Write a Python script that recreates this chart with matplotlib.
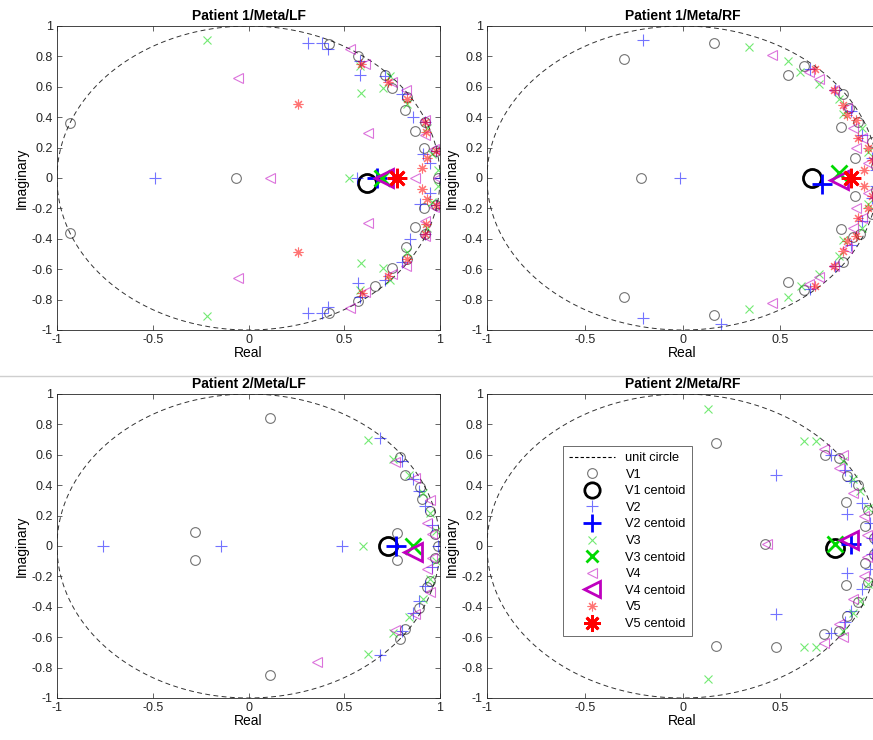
import numpy as np
import matplotlib
matplotlib.use("Agg")
import matplotlib.pyplot as plt
from matplotlib.lines import Line2D

plt.rcParams['font.family'] = ['Liberation Sans', 'DejaVu Sans']

# ---------------------------------------------------------------- data
titles = ["Patient 1/Meta/LF", "Patient 1/Meta/RF",
          "Patient 2/Meta/LF", "Patient 2/Meta/RF"]
series_names = ["V1", "V2", "V3", "V4", "V5"]

xtick_vals = [-1, -0.5, 0, 0.5, 1]
xtick_labels = ["-1", "-0.5", "0", "0.5", "1"]
ytick_vals = [-1, -0.8, -0.6, -0.4, -0.2, 0, 0.2, 0.4, 0.6, 0.8, 1]
ytick_labels = ["-1", "-0.8", "-0.6", "-0.4", "-0.2", "0",
                "0.2", "0.4", "0.6", "0.8", "1"]

# Patient 1 / LF : roots per variable
p1_v1 = [-0.93+0.36j, -0.93-0.36j, -0.065+0j, 0.42+0.88j, 0.42-0.89j,
         0.57+0.80j, 0.57-0.81j, 0.715+0.68j, 0.66-0.71j, 0.75+0.59j,
         0.75-0.59j, 0.83+0.53j, 0.82-0.455j, 0.815+0.45j, 0.83-0.53j,
         0.92+0.37j, 0.92-0.37j, 0.87+0.31j, 0.87-0.32j, 0.915+0.20j,
         0.915-0.20j, 0.98+0.18j, 0.98-0.18j, 0.99+0j]
p1_v2 = [-0.49+0j, 0.565+0j, 0.31+0.89j, 0.31-0.89j, 0.385+0.885j,
         0.385-0.885j, 0.415+0.85j, 0.415-0.85j, 0.58+0.77j, 0.58-0.78j,
         0.58+0.68j, 0.57-0.69j, 0.715+0.67j, 0.715-0.67j, 0.80+0.55j,
         0.80-0.55j, 0.86+0.40j, 0.845-0.40j, 0.92+0.37j, 0.92-0.37j,
         0.91+0.16j, 0.895-0.17j, 0.95+0.10j, 0.95-0.10j, 0.98+0.18j,
         0.98-0.18j, 1.0+0j]
p1_v3 = [-0.215+0.91j, -0.215-0.91j, 0.525+0j, 0.585+0.56j, 0.585-0.56j,
         0.58+0.74j, 0.58-0.74j, 0.70+0.59j, 0.70-0.59j, 0.74+0.67j,
         0.74-0.67j, 0.83+0.49j, 0.83-0.49j, 0.93+0.33j, 0.93-0.33j,
         0.96+0.16j, 0.96-0.16j, 0.99+0.05j, 0.99-0.05j]
p1_v4 = [-0.055+0.66j, -0.055-0.66j, 0.11+0j, 0.625+0.295j, 0.625-0.295j,
         0.87+0j, 0.53+0.85j, 0.53-0.855j, 0.61+0.75j, 0.61-0.75j,
         0.75+0.63j, 0.75-0.63j, 0.82+0.58j, 0.82-0.58j, 0.92+0.38j,
         0.92-0.38j, 0.92+0.28j, 0.92-0.28j, 0.97+0.19j, 0.97-0.19j,
         0.99+0j]
p1_v5 = [0.26+0.485j, 0.26-0.485j, 0.59+0.75j, 0.595-0.755j, 0.73+0.63j,
         0.73-0.645j, 0.83+0.52j, 0.83-0.535j, 0.92+0.37j, 0.92-0.37j,
         0.925+0.30j, 0.925-0.30j, 0.93+0.13j, 0.93-0.136j, 0.905+0.065j,
         0.905-0.07j, 0.98+0.18j, 0.98-0.18j]
p1_centroids = [0.62-0.03j, 0.67+0j, 0.695+0j, 0.71+0j, 0.775+0j]

# Patient 1 / RF
p2_v1 = [-0.30+0.78j, -0.30-0.78j, -0.21+0j, 0.16+0.89j, 0.16-0.90j,
         0.54+0.675j, 0.54-0.686j, 0.62+0.74j, 0.62-0.74j, 0.82+0.55j,
         0.82-0.555j, 0.85+0.46j, 0.87-0.39j, 0.81+0.335j, 0.81-0.335j,
         0.90+0.37j, 0.91-0.37j, 0.88+0.13j, 0.88-0.12j, 0.97+0.24j,
         0.97-0.24j, 0.99+0.08j, 0.99-0.08j]
p2_v2 = [-0.20+0.91j, -0.20-0.92j, -0.015+0j, 0.195-0.958j, 0.65+0.715j,
         0.65-0.73j, 0.78+0.58j, 0.78-0.58j, 0.86+0.44j, 0.86-0.44j,
         0.92+0.28j, 0.92-0.28j, 0.97+0.13j, 0.97-0.13j, 0.99+0.05j,
         0.99-0.05j]
p2_v3 = [0.34+0.86j, 0.34-0.86j, 0.54+0.77j, 0.54-0.78j, 0.60+0.70j,
         0.605-0.71j, 0.70+0.62j, 0.70-0.63j, 0.80+0.52j, 0.80-0.51j,
         0.82+0.42j, 0.82-0.41j, 0.92+0.33j, 0.92-0.33j, 0.95+0.17j,
         0.95-0.17j]
p2_v4 = [0.46+0.81j, 0.46-0.82j, 0.645+0.70j, 0.645-0.70j, 0.70+0.65j,
         0.70-0.65j, 0.775+0.58j, 0.775-0.58j, 0.84+0.46j, 0.84-0.46j,
         0.87+0.33j, 0.87-0.33j, 0.92+0.26j, 0.92-0.26j, 0.89+0.20j,
         0.89-0.20j, 0.95+0.10j, 0.95-0.10j]
p2_v5 = [0.68+0.715j, 0.68-0.71j, 0.775+0.58j, 0.775-0.58j, 0.82+0.48j,
         0.82-0.48j, 0.84+0.415j, 0.84-0.415j, 0.89+0.38j, 0.89-0.38j,
         0.90+0.26j, 0.90-0.26j, 0.95+0.20j, 0.95-0.20j, 0.93+0.05j,
         0.93-0.05j, 0.97+0.12j, 0.97-0.12j]
p2_centroids = [0.66+0j, 0.715-0.04j, 0.80+0.03j, 0.80-0.01j, 0.86+0j]

# Patient 2 / LF (no V5 roots)
p3_v1 = [-0.28+0.09j, -0.28-0.09j, 0.11+0.84j, 0.11-0.85j, 0.79+0.585j,
         0.79-0.61j, 0.817+0.47j, 0.817-0.545j, 0.895+0.39j, 0.89-0.41j,
         0.905+0.31j, 0.93-0.27j, 0.948+0.23j, 0.948-0.23j, 0.974+0.08j,
         0.974-0.08j, 0.775+0.085j, 0.775-0.09j, 0.99+0j]
p3_v2 = [-0.76+0j, -0.145+0j, 0.49+0j, 0.687+0.71j, 0.687-0.72j,
         0.80+0.56j, 0.80-0.56j, 0.86+0.44j, 0.86-0.44j, 0.89+0.36j,
         0.89-0.36j, 0.92+0.26j, 0.92-0.26j, 0.96+0.14j, 0.96-0.14j,
         0.99+0j]
p3_v3 = [0.60+0j, 0.625+0.70j, 0.625-0.71j, 0.755+0.575j, 0.755-0.575j,
         0.84+0.47j, 0.84-0.47j, 0.91+0.35j, 0.91-0.35j, 0.95+0.22j,
         0.95-0.22j, 0.98+0.10j, 0.98-0.10j]
p3_v4 = [0.36-0.765j, 0.765+0.55j, 0.765-0.55j, 0.87+0.45j, 0.87-0.45j,
         0.948+0.30j, 0.948-0.30j, 0.93+0.15j, 0.93-0.15j, 0.96+0.08j,
         0.96-0.08j]
p3_v5 = []
p3_centroids = [0.73+0j, 0.77+0j, 0.86+0j, 0.86-0.04j, None]

# Patient 2 / RF (no V5 roots)
p4_v1 = [0.17+0.68j, 0.17-0.655j, 0.48-0.665j, 0.42+0.015j, 0.73+0.60j,
         0.725-0.58j, 0.80+0.58j, 0.80-0.56j, 0.84+0.46j, 0.84-0.46j,
         0.90+0.40j, 0.90-0.37j, 0.835+0.29j, 0.835-0.255j, 0.95+0.24j,
         0.95-0.24j, 0.935+0.13j, 0.935-0.11j, 0.98+0.05j, 0.98-0.05j]
p4_v2 = [0.48+0.47j, 0.48-0.445j, 0.76+0.60j, 0.76-0.575j, 0.83+0.50j,
         0.83-0.50j, 0.86+0.43j, 0.86-0.43j, 0.92+0.28j, 0.92-0.28j,
         0.84+0.21j, 0.84-0.18j, 0.96+0.15j, 0.96-0.15j, 0.97+0.05j,
         0.97-0.05j]
p4_v3 = [0.13+0.90j, 0.13-0.875j, 0.62+0.69j, 0.62-0.665j, 0.685+0.69j,
         0.685-0.665j, 0.82+0.56j, 0.82-0.56j, 0.87+0.44j, 0.87-0.44j,
         0.91+0.36j, 0.91-0.36j, 0.95+0.25j, 0.95-0.25j]
p4_v4 = [0.43+0.01j, 0.725+0.64j, 0.725-0.64j, 0.80+0.51j, 0.80-0.51j,
         0.87+0.35j, 0.87-0.35j, 0.93+0.20j, 0.93-0.20j, 0.945+0.07j,
         0.945-0.07j, 0.82+0.60j, 0.82-0.60j]
p4_v5 = []
p4_centroids = [0.78-0.015j, 0.86+0.015j, 0.78+0.01j, 0.85+0.04j, None]

panel_roots = [
    [p1_v1, p1_v2, p1_v3, p1_v4, p1_v5],
    [p2_v1, p2_v2, p2_v3, p2_v4, p2_v5],
    [p3_v1, p3_v2, p3_v3, p3_v4, p3_v5],
    [p4_v1, p4_v2, p4_v3, p4_v4, p4_v5],
]
panel_centroids = [p1_centroids, p2_centroids, p3_centroids, p4_centroids]

# ---------------------------------------------------------------- styles
ASTERISK = (8, 2, 0)
colors = ["k", "b", (0.0, 0.85, 0.0), "m", "r"]
markers = ["o", "+", "x", "<", ASTERISK]
pt_size = [7, 8, 6, 7, 7]
ct_size = [13, 15, 11, 13, 14]
pt_alpha = 0.55

W, H = 873, 740
fig = plt.figure(figsize=(W / 100, H / 100), dpi=100)

# axes rectangles in pixels: left, top, right, bottom
rects = [(57, 26, 440, 330), (487, 26, 878, 330),
         (57, 394, 440, 698), (487, 394, 878, 698)]

theta = np.linspace(0, 2 * np.pi, 400)

axes = []
for k, (l, t, r, b) in enumerate(rects):
    ax = fig.add_axes([l / W, 1 - b / H, (r - l) / W, (b - t) / H])
    axes.append(ax)
    ax.plot(np.cos(theta), np.sin(theta), ls=(0, (5, 3.5)), color="#333333",
            lw=0.7)
    for s in range(5):
        z = np.asarray(panel_roots[k][s], dtype=complex)
        if z.size:
            ax.plot(z.real, z.imag, ls="none", marker=markers[s],
                    ms=pt_size[s], mec=colors[s], mfc="none", mew=0.8,
                    alpha=pt_alpha)
        c = panel_centroids[k][s]
        if c is not None:
            ax.plot([c.real], [c.imag], ls="none", marker=markers[s],
                    ms=ct_size[s], mec=colors[s], mfc="none", mew=2.0)
    ax.set_xlim(-1, 1)
    ax.set_ylim(-1, 1)
    ax.set_xticks(xtick_vals)
    # the right-hand panels run past the figure edge, so their last
    # x label would be clipped
    if k % 2 == 1:
        ax.set_xticklabels(xtick_labels[:-1] + [""])
    else:
        ax.set_xticklabels(xtick_labels)
    ax.set_yticks(ytick_vals)
    ax.set_yticklabels(ytick_labels)
    ax.tick_params(direction="in", top=True, right=True, length=3.5,
                   width=0.5, labelsize=9, colors="#262626", pad=3)
    for sp in ax.spines.values():
        sp.set_linewidth(0.6)
        sp.set_color("#262626")
    ax.set_title(titles[k], fontsize=10, fontweight="bold", pad=4)
    ax.set_xlabel("Real", fontsize=10, labelpad=0)
    ax.set_ylabel("Imaginary", fontsize=10, labelpad=2)

# legend on the last panel
handles = [Line2D([], [], ls=(0, (3, 2)), color="k", lw=0.8)]
labels = ["unit circle"]
for s in range(5):
    handles.append(Line2D([], [], ls="none", marker=markers[s], ms=pt_size[s],
                          mec=colors[s], mfc="none", mew=0.8, alpha=pt_alpha))
    labels.append(series_names[s])
    handles.append(Line2D([], [], ls="none", marker=markers[s],
                          ms=ct_size[s] * 0.85, mec=colors[s], mfc="none",
                          mew=2.0))
    labels.append(series_names[s] + " centoid")
leg = axes[3].legend(handles, labels, loc="upper left",
                     bbox_to_anchor=(0.194, 0.83), fontsize=9.2,
                     labelspacing=0.36, handlelength=3.6, handletextpad=0.8,
                     borderpad=0.5, borderaxespad=0, fancybox=False,
                     framealpha=1, edgecolor="#555555")
leg.get_frame().set_linewidth(0.6)

# thin divider between the two rows
fig.add_artist(Line2D([0, 1], [1 - 376 / H, 1 - 376 / H],
                      transform=fig.transFigure, color="#cfcfcf", lw=1.0))

fig.savefig("out.png", dpi=100)
